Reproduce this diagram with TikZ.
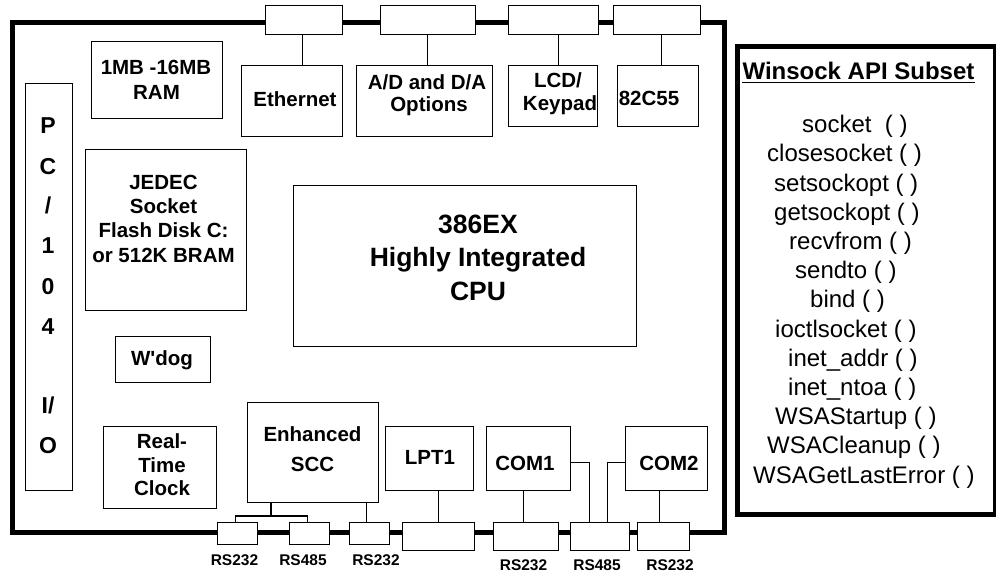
\documentclass[tikz,border=0pt]{standalone}
\usepackage{fontspec}
\setmainfont{Liberation Sans}[Ligatures=TeXOff]
\begin{document}
\begin{tikzpicture}[x=1pt,y=-1pt,
  box/.style={draw, line width=1.3pt, fill=white, inner sep=0pt, anchor=north west},
  conn/.style={draw, line width=1.3pt, fill=white, inner sep=0pt, anchor=north west},
  wire/.style={line width=1.3pt},
  thick border/.style={draw, line width=5pt, inner sep=0pt, anchor=north west},
  lbl/.style={inner sep=0pt, anchor=base, font=\fontsize{20.5}{24}\selectfont\bfseries},
  cpulbl/.style={inner sep=0pt, anchor=base, font=\fontsize{26.5}{30}\selectfont\bfseries},
  pclbl/.style={inner sep=0pt, anchor=base, font=\fontsize{23}{27}\selectfont\bfseries},
  portlbl/.style={inner sep=0pt, anchor=base, font=\fontsize{15.5}{18}\selectfont\bfseries},
  apititle/.style={inner sep=0pt, anchor=base, font=\fontsize{24}{28}\selectfont\bfseries},
  apilbl/.style={inner sep=0pt, anchor=base west, font=\fontsize{24}{28}\selectfont},
]
\useasboundingbox (0,0) rectangle (996,572);

% board
\node[thick border, minimum width=712pt, minimum height=509pt] (board) at (9.5,20.5) {};

% boxes
\node[box, minimum width=131pt, minimum height=77pt]  (ram)   at (91,41) {};
\node[box, minimum width=101pt, minimum height=71pt]  (eth)   at (241,65) {};
\node[box, minimum width=136pt, minimum height=71pt]  (ad)    at (356,65) {};
\node[box, minimum width=89pt,  minimum height=61pt]  (lcd)   at (508,65) {};
\node[box, minimum width=81pt,  minimum height=61pt]  (ppi)   at (617,65) {};
\node[box, minimum width=47pt,  minimum height=407pt] (pc)    at (25,83) {};
\node[box, minimum width=161pt, minimum height=161pt] (jedec) at (85,149) {};
\node[box, minimum width=343pt, minimum height=161pt] (cpu)   at (293,185) {};
\node[box, minimum width=95pt,  minimum height=46pt]  (wdog)  at (115,336) {};
\node[box, minimum width=113pt, minimum height=82pt]  (rtc)   at (103,426) {};
\node[box, minimum width=131pt, minimum height=100pt] (scc)   at (247,402) {};
\node[box, minimum width=88pt,  minimum height=64pt]  (lpt)   at (385,426) {};
\node[box, minimum width=84pt,  minimum height=64pt]  (com1)  at (486,426) {};
\node[box, minimum width=82pt,  minimum height=64pt]  (com2)  at (625,426) {};

% top connectors
\node[conn, minimum width=77pt, minimum height=29pt] (cEth) at (265,5) {};
\node[conn, minimum width=95pt, minimum height=29pt] (cAD)  at (380,5) {};
\node[conn, minimum width=90pt, minimum height=29pt] (cLCD) at (508,5) {};
\node[conn, minimum width=87pt, minimum height=29pt] (cPPI) at (613,5) {};

% bottom connectors
\node[conn, minimum width=40pt, minimum height=22pt] (cS1)  at (217,522) {};
\node[conn, minimum width=40pt, minimum height=22pt] (cS2)  at (289,522) {};
\node[conn, minimum width=40pt, minimum height=22pt] (cS3)  at (349,522) {};
\node[conn, minimum width=72pt, minimum height=28pt] (cLpt) at (402,522) {};
\node[conn, minimum width=65pt, minimum height=28pt] (cC1)  at (493,522) {};
\node[conn, minimum width=59pt, minimum height=28pt] (cRS)  at (570,522) {};
\node[conn, minimum width=52pt, minimum height=28pt] (cC2)  at (637,522) {};

% wires top
\draw[wire] ([xshift=-1.5pt]cEth.south) -- ([xshift=-1.5pt]cEth.south |- eth.north);
\draw[wire] ([xshift=-0.5pt]cAD.south) -- ([xshift=-0.5pt]cAD.south |- ad.north);
\draw[wire] ([xshift=5pt]cLCD.south) -- ([xshift=5pt]cLCD.south |- lcd.north);
\draw[wire] ([xshift=4.5pt]cPPI.south) -- ([xshift=4.5pt]cPPI.south |- ppi.north);

% wires bottom
\coordinate (sccj) at (271,516);
\draw[wire] (sccj |- scc.south) -- (sccj);
\draw[wire] ([xshift=-2pt]cS1.north) |- (sccj) -| ([xshift=-2pt]cS2.north);
\draw[wire] ([xshift=-3pt]cS3.north) -- ([xshift=-3pt]cS3.north |- scc.south);
\draw[wire] (cLpt.north) -- (cLpt.north |- lpt.south);
\draw[wire] ([xshift=-2.5pt]cC1.north) -- ([xshift=-2.5pt]cC1.north |- com1.south);
\draw[wire] ([yshift=-4pt]com1.east) -| ([xshift=-10.5pt]cRS.north);
\draw[wire] ([yshift=-4pt]com2.west) -| ([xshift=7.5pt]cRS.north);
\draw[wire] ([xshift=-4pt]cC2.north) -- ([xshift=-4pt]cC2.north |- com2.south);

% labels
\node[lbl] (ramA) at (156,74.3) {1MB -16MB};
\node[lbl] (ramB) at (156.5,99.3) {RAM};
\node[lbl] (ethT) at (295,106.3) {Ethernet};
\node[lbl] (adA) at (427,90) {A/D and D/A};
\node[lbl] (adB) at (429,111.5) {Options};
\node[lbl] (lcdA) at (558,87.5) {LCD/};
\node[lbl] (lcdB) at (560,111) {Keypad};
\node[lbl] (ppiT) at (649,105.3) {82C55};

\node[pclbl] (pcP) at (48,133.3) {P};
\node[pclbl] (pcC) at (48,174.5) {C};
\node[pclbl] (pcS) at (48,213.5) {/};
\node[pclbl] (pc1) at (48,254) {1};
\node[pclbl] (pc0) at (48,294.5) {0};
\node[pclbl] (pc4) at (48,334) {4};
\node[pclbl] (pcI) at (48,413.5) {I/};
\node[pclbl] (pcO) at (48,453) {O};

\node[lbl] (jA) at (163.5,190) {JEDEC};
\node[lbl] (jB) at (163.5,214) {Socket};
\node[lbl] (jC) at (163.5,238) {Flash Disk C:};
\node[lbl] (jD) at (163.5,262) {or 512K BRAM};

\node[lbl] (wdT) at (162,365.7) {W'dog};

\node[cpulbl] (cpuA) at (478,233.3) {386EX};
\node[cpulbl] (cpuB) at (478,266.7) {Highly Integrated};
\node[cpulbl] (cpuC) at (478,300) {CPU};

\node[lbl] (rtcA) at (162,448) {Real-};
\node[lbl] (rtcB) at (162,472.7) {Time};
\node[lbl] (rtcC) at (162,495.7) {Clock};

\node[lbl] (sccA) at (312.5,441.7) {Enhanced};
\node[lbl] (sccB) at (312.5,471.7) {SCC};

\node[lbl] (lptT) at (430,464.3) {LPT1};
\node[lbl] (c1T) at (525,470.7) {COM1};
\node[lbl] (c2T) at (669,470.7) {COM2};

\node[portlbl] (p1) at (234.5,565) {RS232};
\node[portlbl] (p2) at (303,565) {RS485};
\node[portlbl] (p3) at (376,565) {RS232};
\node[portlbl] (p4) at (523.5,570.7) {RS232};
\node[portlbl] (p5) at (597,570.7) {RS485};
\node[portlbl] (p6) at (670,570.7) {RS232};

% Winsock panel
\node[thick border, minimum width=258pt, minimum height=468pt] (ws) at (735,44) {};
\node[apititle] (wsTitle) at (858.5,80) {Winsock API Subset};
\draw[line width=1.7pt] ([yshift=-2.5pt]wsTitle.base west) -- ([yshift=-2.5pt]wsTitle.base east);

\node[apilbl] (f1)  at (802,132.7) {socket\ \ ( )};
\node[apilbl] (f2)  at (767,161.9) {closesocket ( )};
\node[apilbl] (f3)  at (774,191.1) {setsockopt ( )};
\node[apilbl] (f4)  at (774,220.3) {getsockopt ( )};
\node[apilbl] (f5)  at (789,249.5) {recvfrom ( )};
\node[apilbl] (f6)  at (795,278.7) {sendto ( )};
\node[apilbl] (f7)  at (810,307.9) {bind ( )};
\node[apilbl] (f8)  at (775,337.1) {ioctlsocket ( )};
\node[apilbl] (f9)  at (788,366.3) {inet\_addr ( )};
\node[apilbl] (f10) at (788,395.5) {inet\_ntoa ( )};
\node[apilbl] (f11) at (775,424.7) {WSAStartup ( )};
\node[apilbl] (f12) at (767,453.9) {WSACleanup ( )};
\node[apilbl] (f13) at (753,483.1) {WSAGetLastError ( )};
\end{tikzpicture}
\end{document}
